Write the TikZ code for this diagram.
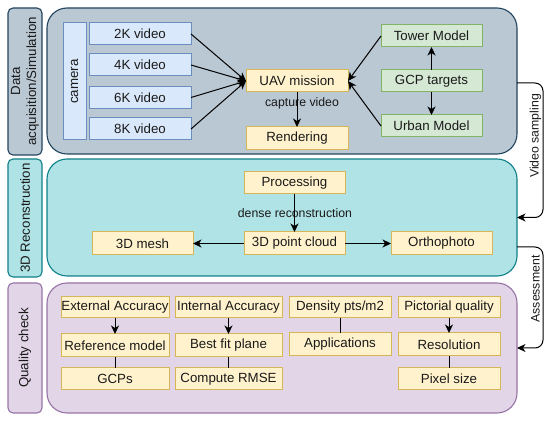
\documentclass[tikz,border=0pt]{standalone}
\usepackage{fontspec}
\setmainfont{Liberation Sans}
\usetikzlibrary{arrows.meta}
\definecolor{pAfill}{HTML}{BAC8D3}\definecolor{pAdraw}{HTML}{23445D}
\definecolor{pBfill}{HTML}{B0E3E6}\definecolor{pBdraw}{HTML}{0E8088}
\definecolor{pCfill}{HTML}{E1D5E7}\definecolor{pCdraw}{HTML}{9673A6}
\definecolor{blfill}{HTML}{DAE8FC}\definecolor{bldraw}{HTML}{6C8EBF}
\definecolor{yefill}{HTML}{FFF2CC}\definecolor{yedraw}{HTML}{D6B656}
\definecolor{grfill}{HTML}{D5E8D4}\definecolor{grdraw}{HTML}{82B366}
\definecolor{txt}{HTML}{1A1A1A}
\tikzset{
  base/.style={inner sep=0pt, outer sep=0pt, text=txt, font=\fontsize{13.3}{16}\selectfont, align=center},
  panel/.style={base, rounded corners=20pt, line width=1.1pt},
  tag/.style={base, rounded corners=5pt, line width=1.1pt, rotate=90},
  bluebox/.style={base, draw=bldraw, fill=blfill, line width=1pt, minimum width=102pt, minimum height=22pt},
  yellowbox/.style={base, draw=yedraw, fill=yefill, line width=1pt, minimum width=102pt, minimum height=22pt},
  greenbox/.style={base, draw=grdraw, fill=grfill, line width=1pt, minimum width=101pt, minimum height=22pt},
  elabel/.style={base, font=\fontsize{12.3}{14}\selectfont},
  arr/.style={line width=1pt, -{Stealth[length=8.5pt,width=8pt,inset=2.5pt]}},
  lnk/.style={line width=1pt},
}
\begin{document}
\begin{tikzpicture}[x=1pt,y=-1pt]
\useasboundingbox (0,0) rectangle (550,422);
% panels
\node[panel, draw=pAdraw, fill=pAfill, minimum width=470pt, minimum height=146pt] (p1) at (282,81) {};
\node[panel, draw=pBdraw, fill=pBfill, minimum width=470pt, minimum height=117pt] (p2) at (282,217.5) {};
\node[panel, draw=pCdraw, fill=pCfill, minimum width=470pt, minimum height=130pt] (p3) at (282,348) {};
% tags
\node[tag, draw=pAdraw, fill=pAfill, minimum width=147pt, minimum height=34pt] (t1) at (25,81.5) {Data\\acquisition/Simulation};
\node[tag, draw=pBdraw, fill=pBfill, minimum width=118pt, minimum height=34pt] (t2) at (25,218) {3D Reconstruction};
\node[tag, draw=pCdraw, fill=pCfill, minimum width=130pt, minimum height=34pt] (t3) at (25,348) {Quality check};
% panel 1
\node[bluebox, rotate=90, minimum width=117pt, minimum height=23pt] (cam) at (74.5,81.5) {camera};
\node[bluebox] (v2) at (140,34) {2K video};
\node[bluebox] (v4) at (140,65) {4K video};
\node[bluebox] (v6) at (140,97.5) {6K video};
\node[bluebox] (v8) at (140,129) {8K video};
\node[yellowbox] (uav) at (297,81) {UAV mission};
\node[yellowbox, minimum height=23pt] (ren) at (297,138.5) {Rendering};
\node[greenbox] (tow) at (431.5,36) {Tower Model};
\node[greenbox] (gcp) at (431.5,81) {GCP targets};
\node[greenbox] (urb) at (431.5,126) {Urban Model};
\foreach \v in {v2,v4,v6,v8} \draw[arr] (\v.east) -- (uav.west);
\draw[arr] (tow.west) -- (uav.east);
\draw[arr] (urb.west) -- (uav.east);
\draw[arr] (gcp.north) -- (tow.south);
\draw[arr] (gcp.south) -- (urb.north);
\draw[arr] (uav.south) -- (ren.north);
\node[elabel] (cv) at (302,103) {capture video};
% panel 2
\node[yellowbox, minimum width=101pt] (proc) at (294.5,183) {Processing};
\node[yellowbox, minimum width=101pt, minimum height=23pt] (pc) at (294.5,243.5) {3D point cloud};
\node[yellowbox, minimum width=101pt, minimum height=23pt] (mesh) at (142.5,243.5) {3D mesh};
\node[yellowbox, minimum width=101pt, minimum height=23pt] (ortho) at (441.5,243.5) {Orthophoto};
\draw[arr] (proc.south) -- (pc.north);
\draw[arr] (pc.west) -- (mesh.east);
\draw[arr] (pc.east) -- (ortho.west);
\node[elabel] (dr) at (295,213) {dense reconstruction};
% panel 3
\node[yellowbox, minimum width=108pt, minimum height=21pt] (ext) at (115,307.5) {External Accuracy};
\node[yellowbox, minimum width=108pt, minimum height=23pt] (ref) at (115,345.5) {Reference model};
\node[yellowbox, minimum width=108pt] (gcps) at (115,379) {GCPs};
\node[yellowbox, minimum width=107pt, minimum height=21pt] (int) at (228.5,307.5) {Internal Accuracy};
\node[yellowbox, minimum width=107pt, minimum height=23pt] (bfp) at (228.5,345.5) {Best fit plane};
\node[yellowbox, minimum width=107pt] (rmse) at (228.5,379) {Compute RMSE};
\node[yellowbox, minimum height=21pt] (dens) at (340,307.5) {Density pts/m2};
\node[yellowbox, minimum height=23pt] (app) at (340,344.5) {Applications};
\node[yellowbox, minimum height=21pt] (pict) at (449,307.5) {Pictorial quality};
\node[yellowbox, minimum height=23pt] (res) at (449,344.5) {Resolution};
\node[yellowbox] (pix) at (449,379) {Pixel size};
\draw[arr] (ext.south) -- (ref.north);
\draw[lnk] (ref.south) -- (gcps.north);
\draw[arr] (int.south) -- (bfp.north);
\draw[lnk] (bfp.south) -- (rmse.north);
\draw[lnk] (dens.south) -- (app.north);
\draw[arr] (pict.south) -- (res.north);
\draw[lnk] (res.south) -- (pix.north);
% side connectors
\coordinate (vsx) at (543,0);
\draw[arr, rounded corners=8pt] ([yshift=-2pt]p1.east) -- ([yshift=-2pt]p1.east -| vsx) -- (p2.east -| vsx) -- (p2.east);
\node[elabel, rotate=90] (vs) at (535.5,136) {Video sampling};
\draw[arr, rounded corners=8pt] ([yshift=-29.5pt]p2.east) -- ([yshift=-29.5pt]p2.east -| vsx) -- (p3.east -| vsx) -- (p3.east);
\node[elabel, rotate=90] (as) at (535.5,289) {Assessment};
\end{tikzpicture}
\end{document}
